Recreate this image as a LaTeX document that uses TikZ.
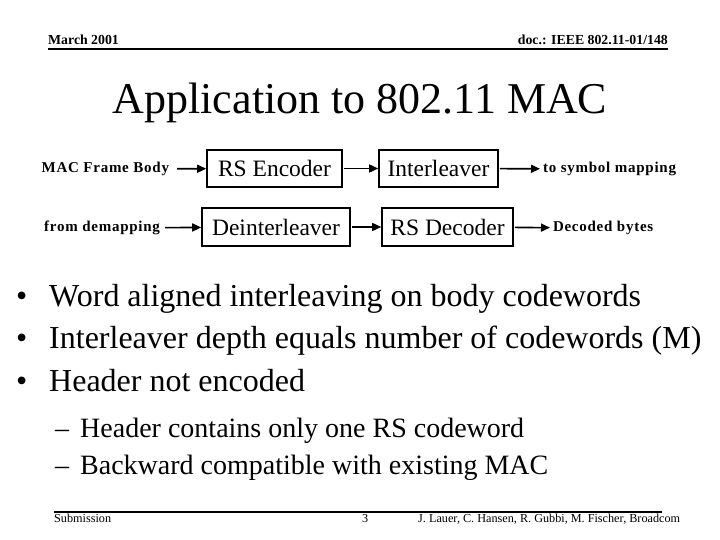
\documentclass[tikz,border=0pt]{standalone}
\usepackage{fontspec}
\setmainfont{Liberation Serif}
\usetikzlibrary{positioning,arrows.meta}

\begin{document}
\begin{tikzpicture}[x=1pt,y=-1pt,
  blk/.style={draw,line width=1.6pt,inner sep=0pt,font=\fontsize{23.5}{26}\selectfont},
  lbl/.style={inner sep=0pt,outer sep=3pt,font=\bfseries\fontsize{15}{17}\selectfont\addfontfeature{LetterSpace=5}},
  flow/.style={line width=1.6pt,-{Triangle[length=9pt,width=8pt]}},
  bul/.style={anchor=base west,inner sep=0pt,font=\fontsize{32}{36}\selectfont},
  subbul/.style={anchor=base west,inner sep=0pt,font=\fontsize{28}{32}\selectfont},
  foot/.style={anchor=base west,inner sep=0pt,font=\fontsize{12.2}{14}\selectfont}]
\useasboundingbox (0,0) rectangle (720,540);
% header and footer
\node[anchor=base west,inner sep=0pt,font=\bfseries\fontsize{13.8}{16}\selectfont] (date) at (48,45) {March 2001};
\node[anchor=base east,inner sep=0pt,font=\bfseries\fontsize{13.8}{16}\selectfont] (docid) at (668,45) {doc.: IEEE 802.11-01/148};
\draw[line width=2pt] (48,49) -- (668,49);
\draw[line width=2pt] (54,512) -- (662,512);
\node[foot] (subm) at (54,522) {Submission};
\node[foot] (pageno) at (362,522) {3};
\node[foot] (authors) at (418,522) {J. Lauer, C. Hansen, R. Gubbi, M. Fischer, Broadcom};
% title
\node[anchor=base,inner sep=0pt,font=\fontsize{44}{50}\selectfont] (title) at (360,114) {Application to 802.11 MAC};
% encoder chain
\node[blk,minimum width=135pt,minimum height=37pt] (enc) at (274.5,168.5) {RS Encoder};
\node[blk,minimum width=119pt,minimum height=37pt] (intl) at (438.5,168.5) {Interleaver};
\node[lbl,anchor=east] (mfb) at (172,169) {MAC Frame Body};
\node[lbl,anchor=west] (tsm) at (540,169) {to symbol mapping};
\draw[flow,shorten <=5pt] (mfb) -- (enc);
\draw[flow,shorten <=1pt] (enc) -- (intl);
\draw[flow,shorten <=1pt] (intl) -- (tsm);
% decoder chain
\node[blk,minimum width=148pt,minimum height=38pt] (dintl) at (276,227) {Deinterleaver};
\node[blk,minimum width=131pt,minimum height=38pt] (dec) at (447.5,227) {RS Decoder};
\node[lbl,anchor=east] (fdm) at (163,228) {from demapping};
\node[lbl,anchor=west] (dbytes) at (550,228) {Decoded bytes};
\draw[flow,shorten <=2pt] (fdm) -- (dintl);
\draw[flow,shorten <=1pt] (dintl) -- (dec);
\draw[flow,shorten <=1pt] (dec) -- (dbytes);
% bullets
\foreach \yy/\txt [count=\i] in {306/Word aligned interleaving on body codewords,
    348/Interleaver depth equals number of codewords (M),
    391/Header not encoded} {
  \node[bul] (dot\i) at (16,\yy) {•};
  \node[bul] (item\i) at (49,\yy) {\txt};
}
\foreach \yy/\txt [count=\i] in {437/Header contains only one RS codeword,
    474/Backward compatible with existing MAC} {
  \node[subbul] (dash\i) at (55,\yy) {–};
  \node[subbul] (sub\i) at (80,\yy) {\txt};
}
\end{tikzpicture}
\end{document}
